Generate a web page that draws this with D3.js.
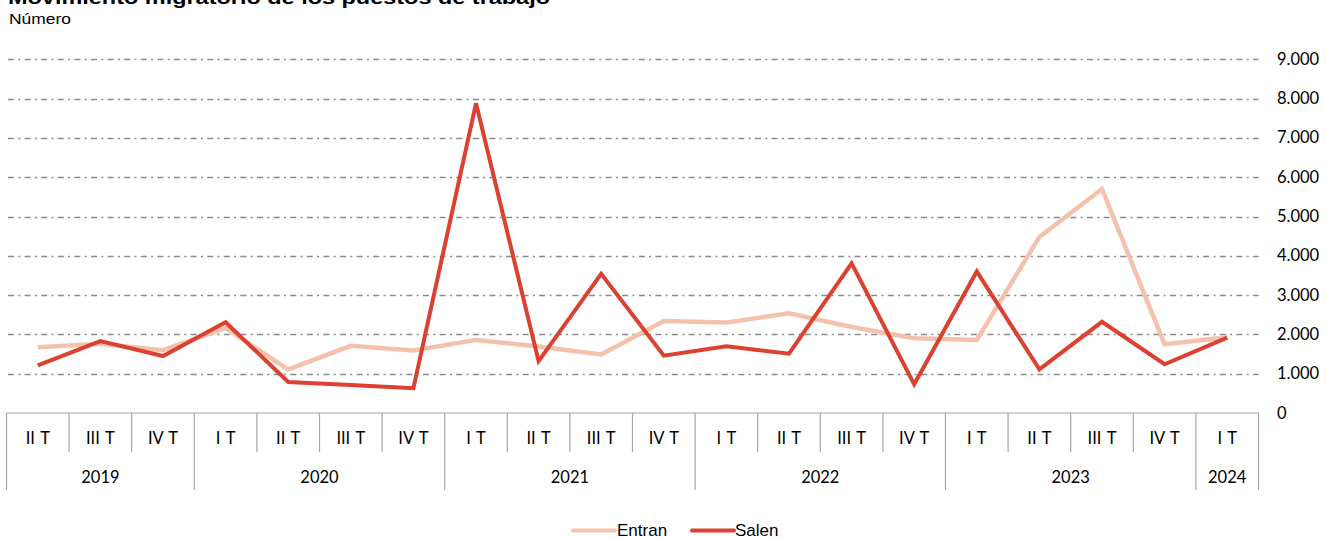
<!DOCTYPE html>
<html>
<head>
<meta charset="utf-8">
<script src="https://cdn.jsdelivr.net/npm/d3@7"></script>
<style>
  body { margin: 0; background: #fff; }
  svg { display: block; }
</style>
</head>
<body>
<div class="container"></div>
<script>
// quarter / year labels
var quarters = ["II T", "III T", "IV T", "I T", "II T", "III T", "IV T", "I T", "II T", "III T", "IV T",
                "I T", "II T", "III T", "IV T", "I T", "II T", "III T", "IV T", "I T"];
var years = ["2019", "2020", "2021", "2022", "2023", "2024"];
var yearSpan = [3, 4, 4, 4, 4, 1];

// series values
var entran = [1670, 1760, 1600, 2160, 1110, 1710, 1590, 1860, 1690, 1490, 2340,
              2300, 2540, 2190, 1900, 1860, 4480, 5700, 1750, 1930];
var salen  = [1210, 1830, 1450, 2310, 790, 710, 630, 7880, 1320, 3540, 1460,
              1700, 1510, 3810, 730, 3600, 1110, 2320, 1240, 1920];

var yTicks = [0, 1000, 2000, 3000, 4000, 5000, 6000, 7000, 8000, 9000];

buildChart();

function buildChart() {
  var W = 1326, H = 538;
  var plotLeft = 6.5, plotRight = 1258.5, plotTop = 59.3, plotBottom = 413;
  var labelFont = "Lato, 'Noto Sans', sans-serif";
  var arial = "Arial, 'Liberation Sans', sans-serif";

  var svg = d3.select(".container")
    .append("svg")
      .attr("width", W)
      .attr("height", H);

  var x = d3.scaleBand()
    .domain(d3.range(quarters.length))
    .range([plotLeft, plotRight]);

  var y = d3.scaleLinear()
    .domain([0, 9000])
    .range([plotBottom, plotTop]);

  var fmt = d3.formatLocale({decimal: ",", thousands: ".", grouping: [3], currency: ["", ""]}).format(",");

  // title + subtitle
  svg.append("text")
    .attr("x", 8)
    .attr("y", 4)
    .style("font-family", arial)
    .style("font-weight", "bold")
    .style("font-size", "19px")
    .attr("textLength", 542)
    .attr("lengthAdjust", "spacingAndGlyphs")
    .text("Movimiento migratorio de los puestos de trabajo");

  svg.append("text")
    .attr("x", 9)
    .attr("y", 24)
    .style("font-family", arial)
    .style("font-size", "15px")
    .attr("textLength", 62)
    .attr("lengthAdjust", "spacingAndGlyphs")
    .text("Número");

  // grid lines (dash-dot)
  svg.append("g")
    .selectAll("line")
    .data(yTicks.filter(function(d) { return d > 0; }))
    .enter()
    .append("line")
      .attr("x1", 8)
      .attr("x2", plotRight)
      .attr("y1", function(d) { return Math.round(y(d)) + 0.5; })
      .attr("y2", function(d) { return Math.round(y(d)) + 0.5; })
      .style("stroke", "#8a8a8a")
      .style("stroke-width", 1.4)
      .style("stroke-dasharray", "6,4.3,2,4.3");

  // y labels on the right
  svg.append("g")
    .selectAll("text")
    .data(yTicks)
    .enter()
    .append("text")
      .attr("x", 1277)
      .attr("y", function(d) { return y(d) + 5.5; })
      .style("font-family", labelFont)
      .style("font-size", "16.5px")
      .style("fill", "#000")
      .text(function(d) { return fmt(d); });

  // category axis
  var axis = svg.append("g");
  axis.append("line")
    .attr("x1", plotLeft).attr("x2", plotRight)
    .attr("y1", plotBottom).attr("y2", plotBottom)
    .style("stroke", "#a6a6a6").style("stroke-width", 1.2);

  var yearBounds = [0];
  yearSpan.forEach(function(s, i) { yearBounds.push(yearBounds[i] + s); });

  d3.range(quarters.length + 1).forEach(function(i) {
    var isYear = yearBounds.indexOf(i) >= 0;
    var xx = plotLeft + i * x.bandwidth();
    axis.append("line")
      .attr("x1", xx).attr("x2", xx)
      .attr("y1", plotBottom).attr("y2", isYear ? 490 : 452)
      .style("stroke", "#a6a6a6").style("stroke-width", 1.2);
  });

  axis.selectAll(".q")
    .data(quarters)
    .enter()
    .append("text")
      .attr("class", "q")
      .attr("x", function(d, i) { return x(i) + x.bandwidth() / 2; })
      .attr("y", 444)
      .attr("text-anchor", "middle")
      .style("font-family", labelFont)
      .style("font-size", "16.5px")
      .style("word-spacing", "1.5px")
      .text(function(d) { return d; });

  axis.selectAll(".yr")
    .data(years)
    .enter()
    .append("text")
      .attr("class", "yr")
      .attr("x", function(d, i) {
        return plotLeft + (yearBounds[i] + yearBounds[i + 1]) / 2 * x.bandwidth();
      })
      .attr("y", 483)
      .attr("text-anchor", "middle")
      .style("font-family", labelFont)
      .style("font-size", "16.5px")
      .text(function(d) { return d; });

  // lines
  var line = d3.line()
    .x(function(d, i) { return x(i) + x.bandwidth() / 2; })
    .y(function(d) { return y(d); });

  svg.append("path")
    .datum(entran)
    .attr("d", line)
    .style("fill", "none")
    .style("stroke", "#f4c2ab")
    .style("stroke-width", 4.5);

  svg.append("path")
    .datum(salen)
    .attr("d", line)
    .style("fill", "none")
    .style("stroke", "#dc4030")
    .style("stroke-width", 4)
    .style("stroke-linejoin", "miter");

  // legend
  var legend = [
    {name: "Entran", color: "#f4c2ab", x1: 573, x2: 615, tx: 617},
    {name: "Salen", color: "#dc4030", x1: 692, x2: 734, tx: 735}
  ];
  legend.forEach(function(l) {
    svg.append("line")
      .attr("x1", l.x1).attr("x2", l.x2)
      .attr("y1", 530.5).attr("y2", 530.5)
      .style("stroke", l.color)
      .style("stroke-width", 4)
      .style("stroke-linecap", "round");
    svg.append("text")
      .attr("x", l.tx)
      .attr("y", 535.5)
      .style("font-family", arial)
      .style("font-size", "17px")
      .text(l.name);
  });
}
</script>
</body>
</html>
